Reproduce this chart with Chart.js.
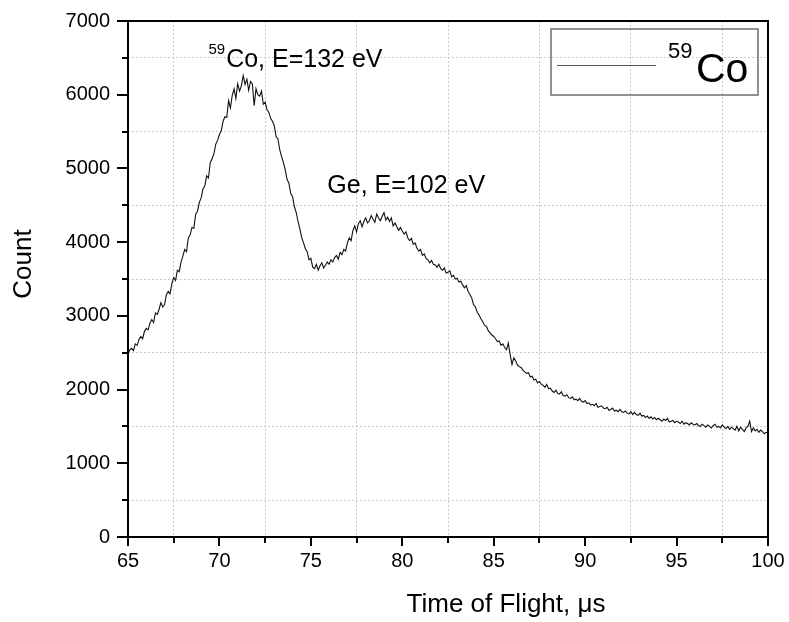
<!DOCTYPE html>
<html>
<head>
<meta charset="utf-8">
<title>59Co time of flight</title>
<script src="https://cdn.jsdelivr.net/npm/chart.js@4.4.1/dist/chart.umd.min.js"></script>
<style>
  html, body { margin: 0; padding: 0; background: #fff; }
</style>
</head>
<body>
<canvas id="chart" width="789" height="622"></canvas>
<script>
/* globals Chart */

// time of flight axis: first channel and channel width (us)
var tofStart = 65
var tofStep = 0.1

// counts, one row per microsecond (x.0 ... x.9)
var counts = [
  2480, 2540, 2560, 2530, 2620, 2600, 2680, 2720, 2690, 2790, // 65
  2830, 2810, 2900, 2950, 2910, 3040, 3020, 3090, 3180, 3120, // 66
  3150, 3290, 3330, 3300, 3440, 3520, 3480, 3620, 3600, 3730, // 67
  3810, 3900, 3870, 4060, 4100, 4200, 4190, 4380, 4420, 4540, // 68
  4600, 4720, 4760, 4900, 4870, 5080, 5130, 5200, 5330, 5380, // 69
  5460, 5510, 5640, 5700, 5690, 5920, 5820, 5990, 6080, 5950, // 70
  6150, 6050, 6120, 6260, 6140, 6210, 6060, 6180, 6150, 5850, // 71
  6080, 6000, 5980, 6050, 5870, 5900, 5800, 5760, 5680, 5640, // 72
  5580, 5430, 5400, 5250, 5160, 5080, 4980, 4850, 4800, 4660, // 73
  4620, 4480, 4400, 4280, 4180, 4060, 3990, 3910, 3870, 3760, // 74
  3780, 3660, 3640, 3700, 3620, 3680, 3720, 3650, 3690, 3730, // 75
  3700, 3760, 3730, 3790, 3820, 3770, 3860, 3830, 3900, 3880, // 76
  3990, 4060, 4020, 4160, 4220, 4140, 4250, 4290, 4210, 4280, // 77
  4330, 4260, 4290, 4360, 4310, 4270, 4380, 4330, 4290, 4350, // 78
  4400, 4300, 4340, 4280, 4330, 4220, 4260, 4210, 4160, 4200, // 79
  4150, 4110, 4140, 4060, 4020, 4050, 3970, 3990, 3920, 3880, // 80
  3900, 3820, 3840, 3780, 3760, 3720, 3750, 3700, 3690, 3660, // 81
  3700, 3640, 3620, 3650, 3580, 3590, 3610, 3530, 3550, 3500, // 82
  3510, 3460, 3470, 3420, 3380, 3410, 3330, 3290, 3240, 3150, // 83
  3120, 3050, 3010, 2960, 2920, 2870, 2860, 2800, 2770, 2740, // 84
  2720, 2690, 2650, 2660, 2600, 2620, 2570, 2540, 2630, 2470, // 85
  2340, 2430, 2390, 2330, 2310, 2300, 2260, 2240, 2220, 2230, // 86
  2170, 2180, 2130, 2140, 2090, 2110, 2070, 2060, 2030, 2070, // 87
  2010, 2020, 1980, 1960, 1990, 1950, 1940, 1970, 1920, 1910, // 88
  1930, 1890, 1880, 1900, 1860, 1870, 1850, 1880, 1840, 1830, // 89
  1850, 1810, 1820, 1790, 1800, 1780, 1810, 1760, 1770, 1780, // 90
  1750, 1740, 1760, 1720, 1730, 1750, 1710, 1720, 1700, 1730, // 91
  1700, 1690, 1710, 1680, 1670, 1700, 1660, 1690, 1660, 1650, // 92
  1680, 1640, 1650, 1620, 1640, 1610, 1630, 1600, 1620, 1590, // 93
  1610, 1590, 1570, 1600, 1580, 1610, 1560, 1570, 1580, 1550, // 94
  1570, 1560, 1540, 1570, 1530, 1550, 1540, 1520, 1550, 1530, // 95
  1520, 1540, 1510, 1500, 1530, 1510, 1490, 1520, 1500, 1480, // 96
  1510, 1530, 1490, 1500, 1480, 1520, 1490, 1470, 1500, 1460, // 97
  1490, 1470, 1450, 1500, 1440, 1490, 1460, 1430, 1480, 1500, // 98
  1570, 1430, 1480, 1440, 1460, 1420, 1450, 1430, 1400, 1420, // 99
  1410                                                        // 100
]

// labelled ticks (minor ticks sit halfway between)
var xTickLabels = [65, 70, 75, 80, 85, 90, 95, 100]
var yTickLabels = [0, 1000, 2000, 3000, 4000, 5000, 6000, 7000]

// peak labels, anchored at data coordinates
var peakSup = ['59', '']
var peakText = ['Co, E=132 eV', 'Ge, E=102 eV']
var peakTof = [69.4, 75.9]
var peakCount = [6380, 4670]

var FONT = '"Liberation Sans", Arial, Helvetica, sans-serif'

var points = counts.map(function (c, i) {
  return { x: +(tofStart + i * tofStep).toFixed(2), y: c }
})

// ticks, frame, axis titles, peak labels and the legend box
var decorations = {
  id: 'decorations',
  afterDraw: function (chart) {
    var ctx = chart.ctx
    var a = chart.chartArea
    var xs = chart.scales.x
    var ys = chart.scales.y

    ctx.save()
    ctx.strokeStyle = '#000'
    ctx.lineWidth = 2

    xs.ticks.forEach(function (tk) {
      var px = Math.round(xs.getPixelForValue(tk.value))
      var len = xTickLabels.indexOf(tk.value) >= 0 ? 9 : 6
      ctx.beginPath()
      ctx.moveTo(px, a.bottom)
      ctx.lineTo(px, a.bottom + len)
      ctx.stroke()
    })
    ys.ticks.forEach(function (tk) {
      var py = Math.round(ys.getPixelForValue(tk.value))
      var len = yTickLabels.indexOf(tk.value) >= 0 ? 11 : 6
      ctx.beginPath()
      ctx.moveTo(a.left, py)
      ctx.lineTo(a.left - len, py)
      ctx.stroke()
    })

    ctx.strokeRect(a.left, a.top, a.right - a.left, a.bottom - a.top)

    // axis titles
    ctx.fillStyle = '#000'
    ctx.font = '26px ' + FONT
    ctx.textAlign = 'center'
    ctx.textBaseline = 'middle'
    ctx.fillText('Time of Flight, \u03bcs', a.left + 378, a.bottom + 68)
    ctx.save()
    ctx.translate(24, a.top + 243)
    ctx.rotate(-Math.PI / 2)
    ctx.fillText('Count', 0, 0)
    ctx.restore()

    // peak labels
    ctx.textAlign = 'left'
    ctx.textBaseline = 'alphabetic'
    for (var i = 0; i < peakText.length; i++) {
      var px = xs.getPixelForValue(peakTof[i])
      var py = ys.getPixelForValue(peakCount[i])
      if (peakSup[i]) {
        ctx.font = '15px ' + FONT
        ctx.fillText(peakSup[i], px, py - 13)
        px += ctx.measureText(peakSup[i]).width + 1
      }
      ctx.font = '25px ' + FONT
      ctx.fillText(peakText[i], px, py)
    }

    // legend box
    var bx = a.right - 217
    var by = a.top + 8
    ctx.strokeStyle = '#6e6e6e'
    ctx.lineWidth = 1.5
    ctx.strokeRect(bx, by, 207, 66)
    ctx.strokeStyle = '#555'
    ctx.lineWidth = 1
    ctx.beginPath()
    ctx.moveTo(bx + 6, by + 36.5)
    ctx.lineTo(bx + 105, by + 36.5)
    ctx.stroke()
    ctx.font = '22px ' + FONT
    ctx.fillText('59', bx + 117, by + 29)
    ctx.font = '41px ' + FONT
    ctx.fillText('Co', bx + 145, by + 53)

    ctx.restore()
  }
}

var chart = new Chart(document.getElementById('chart'), {
  type: 'line',
  data: {
    datasets: [{
      label: '59Co',
      data: points,
      borderColor: '#111',
      borderWidth: 1.1,
      pointRadius: 0,
      tension: 0,
      fill: false
    }]
  },
  options: {
    responsive: false,
    animation: false,
    devicePixelRatio: 1,
    layout: { padding: { top: 21, right: 21, left: 0, bottom: 0 } },
    plugins: {
      legend: { display: false },
      tooltip: { enabled: false }
    },
    scales: {
      x: {
        type: 'linear',
        min: 65,
        max: 100,
        afterFit: function (scale) {
          scale.height = 85
          scale.paddingLeft = 0
          scale.paddingRight = 0
        },
        ticks: {
          stepSize: 2.5,
          autoSkip: false,
          maxRotation: 0,
          padding: 12,
          color: '#000',
          font: { family: FONT, size: 20 },
          callback: function (v) { return xTickLabels.indexOf(v) >= 0 ? String(v) : '' }
        },
        grid: {
          drawTicks: false,
          lineWidth: 1,
          color: function (c) {
            if (!c.tick) return 'rgba(0,0,0,0)'
            return xTickLabels.indexOf(c.tick.value) >= 0 ? 'rgba(0,0,0,0)' : '#c9c9c9'
          }
        },
        border: { display: false, dash: [2, 2] }
      },
      y: {
        min: 0,
        max: 7000,
        afterFit: function (scale) {
          scale.width = 128
          scale.paddingTop = 0
          scale.paddingBottom = 0
        },
        ticks: {
          stepSize: 500,
          autoSkip: false,
          padding: 18,
          color: '#000',
          font: { family: FONT, size: 20 },
          callback: function (v) { return yTickLabels.indexOf(v) >= 0 ? String(v) : '' }
        },
        grid: {
          drawTicks: false,
          lineWidth: 1,
          color: function (c) {
            if (!c.tick) return 'rgba(0,0,0,0)'
            return yTickLabels.indexOf(c.tick.value) >= 0 ? 'rgba(0,0,0,0)' : '#c9c9c9'
          }
        },
        border: { display: false, dash: [2, 2] }
      }
    }
  },
  plugins: [decorations]
})
</script>
</body>
</html>
